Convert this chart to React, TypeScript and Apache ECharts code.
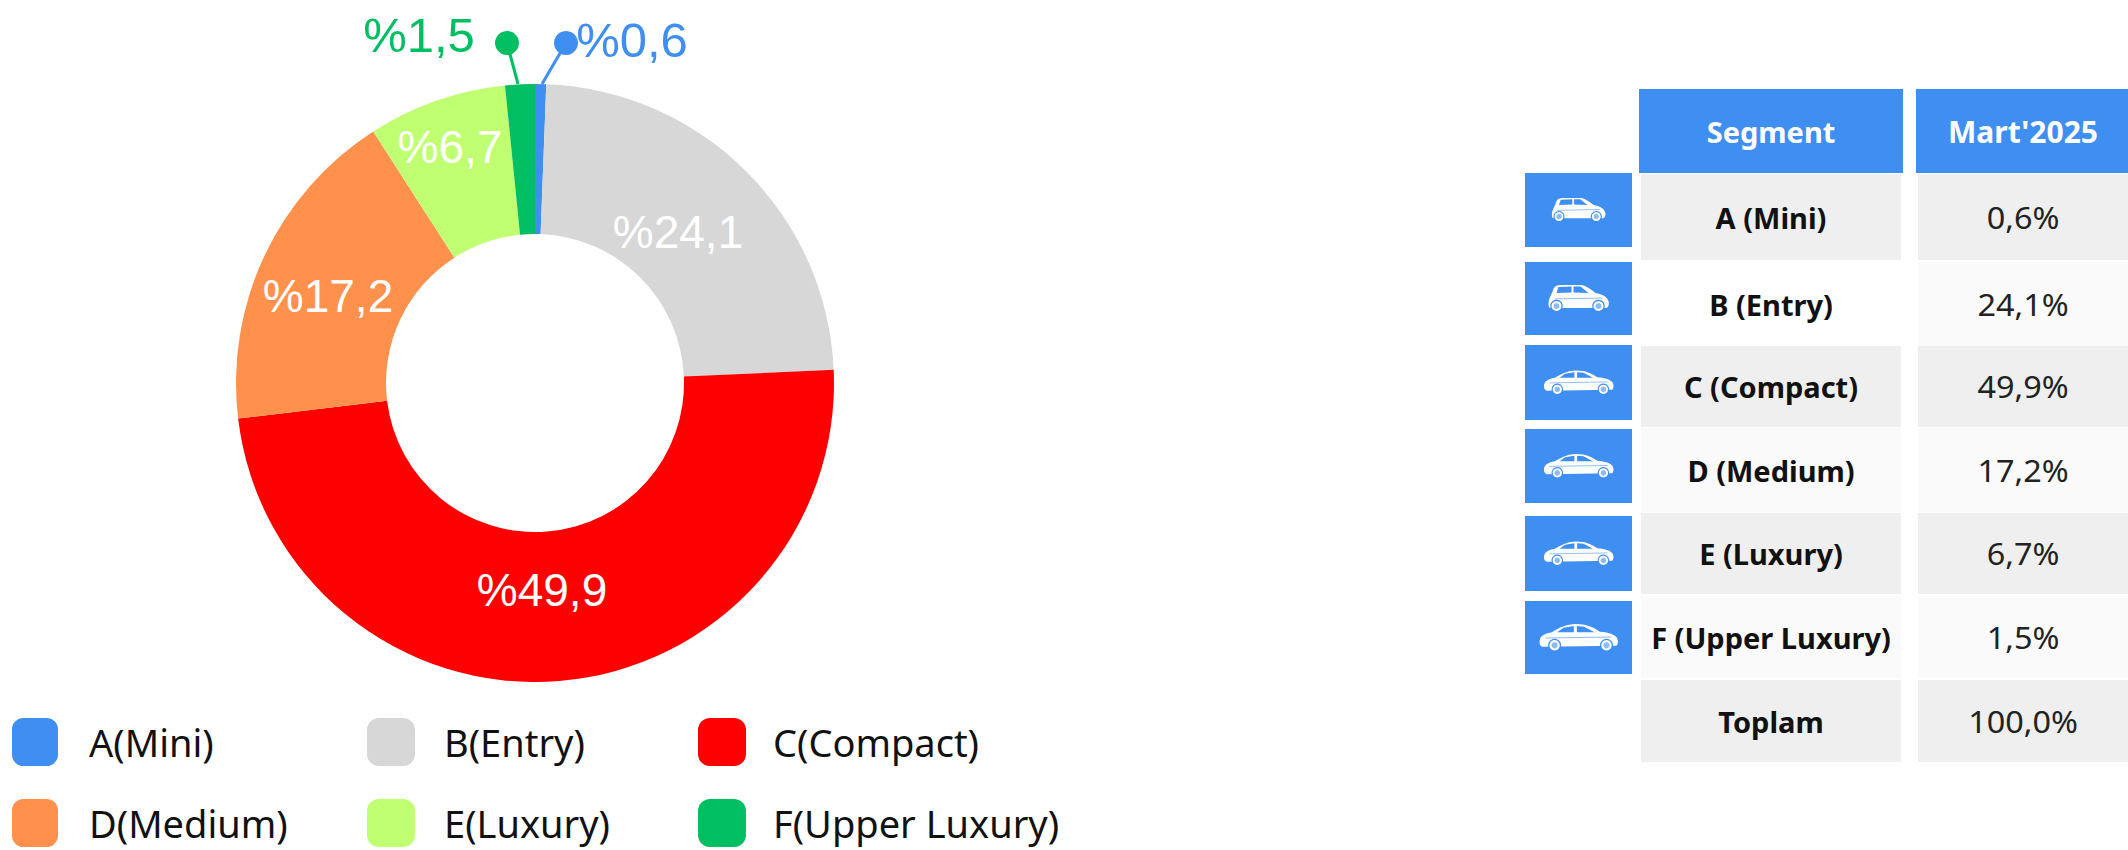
import React, { useEffect, useRef } from "react";
import * as echarts from "echarts";

const segmentNames = ["A(Mini)", "B(Entry)", "C(Compact)", "D(Medium)", "E(Luxury)", "F(Upper Luxury)"];
const sliceValues = [0.6, 23.7, 48.8, 17.8, 7.5, 1.6];
const segmentLabels = ["%0,6", "%24,1", "%49,9", "%17,2", "%6,7", "%1,5"];
const segmentColors = ["#3F8EF2", "#D7D7D7", "#FF0000", "#FF914D", "#C1FF72", "#00BF63"];

const tableHeaders = ["Segment", "Mart'2025"];
const tableSegments = ["A (Mini)", "B (Entry)", "C (Compact)", "D (Medium)", "E (Luxury)", "F (Upper Luxury)", "Toplam"];
const tableValues = ["0,6%", "24,1%", "49,9%", "17,2%", "6,7%", "1,5%", "100,0%"];

const BLUE = "#3F8EF2";
const FONT = "'Noto Sans'";

const rowTops = [174, 262, 346, 428, 513, 596, 680];
const rowBottoms = [260, 346, 427, 512, 594, 678, 762];
const rowFills = ["#EFEFEF", "#FAFAFA", "#EFEFEF", "#FAFAFA", "#EFEFEF", "#FAFAFA", "#EFEFEF"];
const iconTops = [173, 262, 345, 429, 516, 601];
const iconBottoms = [247, 335, 420, 503, 591, 674];

const labelSpots = [
  [632, 40], [678, 232], [542, 590], [328, 296], [450, 147], [419, 35],
];

const hatch = "M2 40 C2 30 6 24 10 16 C12 6 16 3 26 2 L66 2 C74 2 84 8 96 18 C108 20 118 24 122 34 C124 40 122 46 118 48 L6 48 C3 48 2 44 2 40 Z";
const sedan = "M2 38 C2 28 8 22 26 19 C40 10 54 3 72 3 C92 3 106 9 118 18 C132 19 144 22 150 28 C154 33 154 42 150 45 L8 47 C4 46 2 42 2 38 Z";
echarts.graphic.registerShape("carHatch", echarts.graphic.extendPath(hatch, {}));
echarts.graphic.registerShape("carSedan", echarts.graphic.extendPath(sedan, {}));

function carIcon(i: number) {
  const cx = 1578.5;
  const cy = (iconTops[i] + iconBottoms[i]) / 2;
  const isHatch = i < 2;
  const w = [55, 62, 71, 71, 71, 80][i];
  const s = w / (isHatch ? 124 : 154);
  const baseW = isHatch ? 124 : 154;
  const x = cx - w / 2;
  const y = cy - 27 * s - 1;
  const wheels = isHatch ? [18, 102] : [31, 131];
  const windows = isHatch
    ? [[[22, 6], [48, 5], [48, 17], [18, 18]], [[52, 5], [66, 5], [82, 18], [52, 17]]]
    : [[[48, 10], [68, 7], [68, 19], [36, 19]], [[74, 7], [88, 8], [108, 19], [74, 19]]];
  return {
    type: "group",
    x,
    y,
    scaleX: s,
    scaleY: s,
    silent: true,
    children: [
      { type: isHatch ? "carHatch" : "carSedan", style: { fill: "#FFFFFF" } },
      ...windows.map((pts) => ({ type: "polygon", shape: { points: pts }, style: { fill: BLUE } })),
      { type: "line", shape: { x1: 14, y1: 30, x2: baseW - 14, y2: 28 }, style: { stroke: BLUE, lineWidth: 1.2 } },
      ...wheels.flatMap((wx) => [
        { type: "circle", shape: { cx: wx, cy: 44, r: 12.5 }, style: { fill: BLUE } },
        { type: "circle", shape: { cx: wx, cy: 44, r: 10 }, style: { fill: "#FFFFFF" } },
        { type: "circle", shape: { cx: wx, cy: 44, r: 6 }, style: { fill: "#8DBBF6" } },
      ]),
    ],
  };
}

function cellText(text: string, x: number, y: number, weight: number, size: number, fill: string, stretch = 1) {
  return {
    type: "text",
    silent: true,
    x,
    y,
    scaleX: stretch,
    style: { text, x: 0, y: 0, align: "center", verticalAlign: "middle", fill, font: `${weight} ${size}px ${FONT}` },
  };
}

function tableElements() {
  const out: any[] = [];
  out.push({ type: "rect", shape: { x: 1639, y: 89, width: 264, height: 84 }, style: { fill: BLUE } });
  out.push({ type: "rect", shape: { x: 1916, y: 89, width: 212, height: 84 }, style: { fill: BLUE } });
  out.push(cellText(tableHeaders[0], 1771, 131, 700, 29, "#FFFFFF"));
  out.push(cellText(tableHeaders[1], 2023, 131, 700, 30, "#FFFFFF"));
  tableSegments.forEach((seg, i) => {
    const h = rowBottoms[i] - rowTops[i];
    const mid = (rowTops[i] + rowBottoms[i]) / 2;
    const segFill = i === 1 ? "#FFFFFF" : rowFills[i];
    out.push({ type: "rect", shape: { x: 1641, y: rowTops[i], width: 260, height: h }, style: { fill: segFill } });
    out.push({ type: "rect", shape: { x: 1918, y: rowTops[i], width: 210, height: h }, style: { fill: rowFills[i] } });
    out.push(cellText(seg, 1771, mid, 700, 29, "#111111"));
    out.push(cellText(tableValues[i], 2023, mid, 400, 30, "#222222", 1.08));
  });
  iconTops.forEach((t, i) => {
    out.push({ type: "rect", shape: { x: 1525, y: t, width: 107, height: iconBottoms[i] - t }, style: { fill: BLUE } });
    out.push(carIcon(i));
  });
  return out;
}

function leaderElements() {
  const items = [
    { dot: [507, 43], end: [518, 84], color: segmentColors[5] },
    { dot: [566, 43], end: [542, 84], color: segmentColors[0] },
  ];
  return items.flatMap((it) => [
    { type: "line", silent: true, z: 5, shape: { x1: it.dot[0], y1: it.dot[1], x2: it.end[0], y2: it.end[1] }, style: { stroke: it.color, lineWidth: 3 } },
    { type: "circle", silent: true, z: 5, shape: { cx: it.dot[0], cy: it.dot[1], r: 12 }, style: { fill: it.color } },
  ]);
}

function legendColumn(names: string[], left: number, width: number, textGap: number) {
  return {
    show: true,
    orient: "vertical",
    left,
    top: 718,
    padding: 0,
    itemWidth: width,
    itemHeight: 48,
    itemGap: 33,
    icon: "roundRect",
    selectedMode: false,
    data: names,
    textStyle: { fontFamily: FONT, fontSize: 38, color: "#111111", padding: [6, 0, 0, textGap] },
  };
}

export default function App() {
  const ref = useRef<HTMLDivElement>(null);
  useEffect(() => {
    const chart = echarts.init(ref.current!, undefined, { renderer: "svg" });
    chart.setOption({
      animation: false,
      backgroundColor: "#FFFFFF",
      legend: [
        legendColumn([segmentNames[0], segmentNames[3]], 12, 46, 26),
        legendColumn([segmentNames[1], segmentNames[4]], 367, 48, 24),
        legendColumn([segmentNames[2], segmentNames[5]], 698, 48, 22),
      ],
      series: [
        {
          type: "pie",
          center: [535, 383],
          radius: [149, 299],
          startAngle: 90,
          clockwise: true,
          minAngle: 0,
          avoidLabelOverlap: false,
          silent: true,
          label: { show: true, position: "inside", fontFamily: "Liberation Sans", fontSize: 46, color: "#FFFFFF" },
          labelLine: { show: false },
          labelLayout: (p: any) => ({
            x: labelSpots[p.dataIndex][0],
            y: labelSpots[p.dataIndex][1],
            align: "center",
            verticalAlign: "middle",
          }),
          data: segmentNames.map((name, i) => ({
            name,
            value: sliceValues[i],
            itemStyle: { color: segmentColors[i] },
            label: {
              formatter: segmentLabels[i],
              color: i === 0 || i === 5 ? segmentColors[i] : "#FFFFFF",
              fontSize: i === 0 || i === 5 ? 49 : 46,
            },
          })),
        },
      ],
      graphic: { elements: [...leaderElements(), ...tableElements()] },
    });
    return () => chart.dispose();
  }, []);
  return <div ref={ref} style={{ position: "fixed", left: 0, top: 0, width: 2128, height: 850 }} />;
}
